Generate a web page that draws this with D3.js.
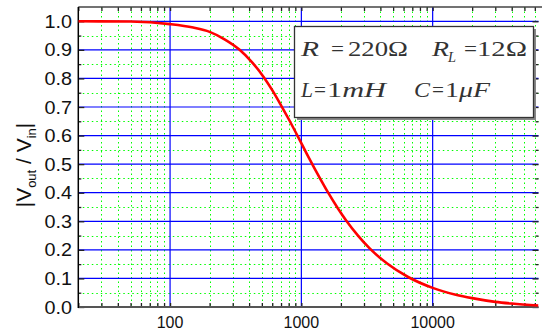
<!DOCTYPE html>
<html>
<head>
<meta charset="utf-8">
<script src="https://cdn.jsdelivr.net/npm/d3@7"></script>
<style>
  body { margin: 0; background: #fff; }
  svg { display: block; }
</style>
</head>
<body>
<div id="container"></div>
<script>
// frequency (Hz) and magnitude
const freqs = [20, 50, 100, 150, 200, 260, 337, 420, 514, 600, 700, 800, 950, 1100, 1250,
               1400, 1600, 1900, 2200, 2700, 3300, 4500, 6500, 10000, 15000, 20000, 30000, 40000, 64000];
const gains = [1.000, 0.999, 0.990, 0.978, 0.963, 0.937, 0.901, 0.857, 0.806, 0.759, 0.706, 0.658, 0.593, 0.536, 0.488,
               0.447, 0.400, 0.345, 0.302, 0.250, 0.206, 0.152, 0.105, 0.067, 0.043, 0.031, 0.018, 0.012, 0.005];
const yTicks = [0, 0.1, 0.2, 0.3, 0.4, 0.5, 0.6, 0.7, 0.8, 0.9, 1.0];
const xMajor = [100, 1000, 10000];

const width = 542, height = 331;
const pLeft = 78.3, pRight = 538.5, pTop = 7, pBottom = 307;

const x = d3.scaleLog().domain([20, 64000]).range([pLeft, pRight]);
const y = d3.scaleLinear().domain([0, 1.05]).range([pBottom, pTop]);

// minor positions: 2..9 of every decade inside the range
const xMinor = [];
for (let dec = 10; dec <= 10000; dec *= 10) {
  for (let m = 2; m <= 9; m++) {
    const v = m * dec;
    if (v >= 20 && v <= 64000) xMinor.push(v);
  }
}
const yMinor = d3.range(0.05, 1.05, 0.1);

const svg = d3.select("#container").append("svg")
    .attr("width", width)
    .attr("height", height);

svg.append("defs").append("clipPath").attr("id", "plot")
  .append("rect").attr("x", pLeft).attr("y", pTop).attr("width", pRight - pLeft).attr("height", pBottom - pTop);

const grid = svg.append("g");

// green dotted minor grid
grid.selectAll("line.vminor").data(xMinor).join("line")
    .attr("x1", d => Math.round(x(d)) + 0.5).attr("x2", d => Math.round(x(d)) + 0.5)
    .attr("y1", pTop).attr("y2", pBottom)
    .attr("stroke", "#00ff00").attr("stroke-width", 1).attr("stroke-dasharray", "1.5,3");
grid.selectAll("line.hminor").data(yMinor).join("line")
    .attr("y1", d => Math.round(y(d)) + 0.5).attr("y2", d => Math.round(y(d)) + 0.5)
    .attr("x1", pLeft).attr("x2", pRight)
    .attr("stroke", "#00ff00").attr("stroke-width", 1).attr("stroke-dasharray", "1.5,3");

// blue major grid
grid.selectAll("line.vmajor").data(xMajor).join("line")
    .attr("x1", d => x(d)).attr("x2", d => x(d))
    .attr("y1", pTop).attr("y2", pBottom)
    .attr("stroke", "#0000ff").attr("stroke-width", 1.2);
grid.selectAll("line.hmajor").data(yTicks.slice(1)).join("line")
    .attr("y1", d => y(d)).attr("y2", d => y(d))
    .attr("x1", pLeft).attr("x2", pRight)
    .attr("stroke", "#0000ff").attr("stroke-width", 1.2);

// ticks pointing inward on all four sides
const axes = svg.append("g");
axes.append("g").attr("transform", `translate(${pLeft},0)`)
    .call(d3.axisRight(y).tickValues(yTicks).tickSize(6).tickFormat(""))
    .call(g => g.select(".domain").remove());
axes.append("g").attr("transform", `translate(${pLeft},0)`)
    .call(d3.axisRight(y).tickValues(yMinor).tickSize(3).tickFormat(""))
    .call(g => g.select(".domain").remove());
axes.append("g").attr("transform", `translate(${pRight},0)`)
    .call(d3.axisLeft(y).tickValues(yTicks).tickSize(6).tickFormat(""))
    .call(g => g.select(".domain").remove());
axes.append("g").attr("transform", `translate(${pRight},0)`)
    .call(d3.axisLeft(y).tickValues(yMinor).tickSize(3).tickFormat(""))
    .call(g => g.select(".domain").remove());
axes.append("g").attr("transform", `translate(0,${pBottom})`)
    .call(d3.axisTop(x).tickValues(xMajor.concat(xMinor)).tickSize(4).tickFormat(""))
    .call(g => g.select(".domain").remove());
axes.append("g").attr("transform", `translate(0,${pTop})`)
    .call(d3.axisBottom(x).tickValues(xMajor.concat(xMinor)).tickSize(4).tickFormat(""))
    .call(g => g.select(".domain").remove());
axes.selectAll(".tick line").attr("stroke", "#222").attr("stroke-width", 1.3);

// frame
svg.append("line").attr("x1", pLeft).attr("x2", pRight + 3.5).attr("y1", pTop).attr("y2", pTop)
    .attr("stroke", "#444").attr("stroke-width", 1.6);
svg.append("line").attr("x1", pLeft).attr("x2", pRight).attr("y1", pBottom).attr("y2", pBottom)
    .attr("stroke", "#555").attr("stroke-width", 2.2);
svg.append("line").attr("x1", pLeft).attr("x2", pLeft).attr("y1", pTop).attr("y2", pBottom + 1)
    .attr("stroke", "#000").attr("stroke-width", 1.5);

// curve
const line = d3.line()
    .x((d, i) => x(freqs[i]))
    .y(d => y(d))
    .curve(d3.curveMonotoneX);
svg.append("path")
    .attr("clip-path", "url(#plot)")
    .attr("d", line(gains))
    .attr("fill", "none")
    .attr("stroke", "#ff0000")
    .attr("stroke-width", 2.6);

const sans = "'Liberation Sans', Arial, Helvetica, sans-serif";

// tick labels
svg.append("g").selectAll("text").data(yTicks).join("text")
    .attr("transform", d => `translate(72,${y(d) + 6.5}) scale(1.1,1)`)
    .attr("text-anchor", "end")
    .attr("font-family", sans)
    .attr("font-size", 18)
    .attr("fill", "#111")
    .text(d => d.toFixed(1));
svg.append("g").selectAll("text").data(xMajor).join("text")
    .attr("x", d => x(d)).attr("y", 328)
    .attr("text-anchor", "middle")
    .attr("font-family", sans)
    .attr("font-size", 16)
    .attr("fill", "#111")
    .text(d => d);

// y axis title
const yt = svg.append("text")
    .attr("transform", "translate(31,165) rotate(-90)")
    .attr("text-anchor", "middle")
    .attr("font-family", sans)
    .attr("font-size", 21)
    .attr("fill", "#111");
yt.append("tspan").text("|V");
yt.append("tspan").attr("font-size", 13).attr("dy", 5).text("out");
yt.append("tspan").attr("dy", -5).text(" / V");
yt.append("tspan").attr("font-size", 13).attr("dy", 5).text("in");
yt.append("tspan").attr("dy", -5).text("|");

// parameter box
const box = svg.append("g");
box.append("rect").attr("x", 297).attr("y", 29).attr("width", 239).attr("height", 91)
    .attr("fill", "#888");
box.append("rect").attr("x", 294.5).attr("y", 26.5).attr("width", 239).attr("height", 91)
    .attr("fill", "#fff").attr("stroke", "#333").attr("stroke-width", 1.3);

// equation pieces, each fitted to the width it takes in the picture
const serif = "'Liberation Serif', 'Times New Roman', 'DejaVu Serif', serif";
const ink = "#333";
function put(xp, yp, txt, len, italic, size) {
  box.append("text")
    .attr("x", xp).attr("y", yp)
    .attr("textLength", len).attr("lengthAdjust", "spacingAndGlyphs")
    .attr("font-family", serif).attr("font-size", size || 22)
    .attr("font-style", italic ? "italic" : "normal")
    .attr("fill", ink).text(txt);
}
put(301, 56, "R", 18, true);
put(331, 56, "=", 13);
put(348, 56, "220Ω", 60);
put(432, 56, "R", 17, true);
put(448, 62, "L", 8, true, 15);
put(464, 56, "=", 13);
put(477, 56, "12Ω", 50);
put(301, 97, "L", 12, true);
put(314, 97, "=", 12);
box.append("text")
    .attr("x", 327).attr("y", 97)
    .attr("textLength", 59).attr("lengthAdjust", "spacingAndGlyphs")
    .attr("font-family", serif).attr("font-size", 22).attr("fill", ink)
    .call(t => t.append("tspan").text("1"))
    .call(t => t.append("tspan").attr("font-style", "italic").text("mH"));
put(414, 97, "C", 16, true);
put(432, 97, "=", 12);
box.append("text")
    .attr("x", 445).attr("y", 97)
    .attr("textLength", 45).attr("lengthAdjust", "spacingAndGlyphs")
    .attr("font-family", serif).attr("font-size", 22).attr("fill", ink)
    .call(t => t.append("tspan").text("1"))
    .call(t => t.append("tspan").attr("font-style", "italic").text("μF"));
</script>
</body>
</html>
